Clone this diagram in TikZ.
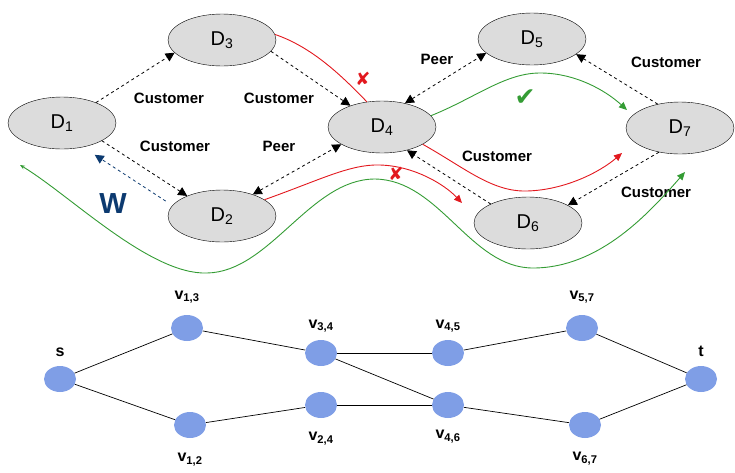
\documentclass[tikz,border=0pt]{standalone}
\usepackage{fontspec}
\setmainfont{Liberation Sans}
\newfontfamily\symfont{DejaVu Sans}
\usetikzlibrary{shapes.geometric,arrows.meta}

\definecolor{domgray}{RGB}{220,220,220}
\definecolor{pathred}{RGB}{226,24,30}
\definecolor{pathgreen}{RGB}{52,156,52}
\definecolor{vblue}{RGB}{127,158,230}
\definecolor{wnavy}{RGB}{12,58,112}

\begin{document}
\begin{tikzpicture}[x=1pt,y=-1pt,
  dom/.style={ellipse,draw,thin,fill=domgray,minimum width=108pt,minimum
    height=52pt,inner sep=0pt,font=\fontsize{20}{22}\selectfont},
  rel/.style={font=\fontsize{15}{17}\selectfont\bfseries},
  arj/.style={line width=0.8pt,dashed,-{Triangle[length=9pt,width=9pt]}},
  arjj/.style={line width=0.8pt,dashed,{Triangle[length=9pt,width=9pt]}-{Triangle[length=9pt,width=9pt]}},
  bad/.style={pathred,line width=0.9pt},
  good/.style={pathgreen,line width=0.9pt},
  tip/.style={-{Triangle[length=8pt,width=7pt]}},
  vtx/.style={ellipse,fill=vblue,minimum width=32pt,minimum height=26pt,inner sep=0pt},
  lab/.style={font=\fontsize{16}{18}\selectfont\bfseries,inner sep=0pt}]
  \useasboundingbox (0,0) rectangle (735,472);

  % domains
  \node(D1)[dom] at (62,123) {D\textsubscript{1}};
  \node(D3)[dom] at (222,40) {D\textsubscript{3}};
  \node(D2)[dom] at (222,216) {D\textsubscript{2}};
  \node(D4)[dom] at (382,127) {D\textsubscript{4}};
  \node(D5)[dom] at (532,39) {D\textsubscript{5}};
  \node(D7)[dom] at (680,128) {D\textsubscript{7}};
  \node(D6)[dom] at (528,223) {D\textsubscript{6}};

  % relations
  \draw[arj] (D1.31) -- (D3.195);
  \draw[arj] (D3.347) -- (D4.146);
  \draw[arj] (D1.336) -- (D2.150);
  \draw[arjj] (D2.35) -- (D4.203);
  \draw[arjj] (D4.46) -- (D5.197);
  \draw[arj] (D7.133) -- (D5.341);
  \draw[arj] (D6.153) -- (D4.317);
  \draw[arj] (D7.229) -- (D6.24);
  \draw[arj,wnavy,shorten <=8pt,shorten >=14pt] (D2.168) -- (D1.311);

  \node(c13)[rel] at (169,98) {Customer};
  \node(c34)[rel] at (279,98) {Customer};
  \node(c12)[rel] at (175,146) {Customer};
  \node(p24)[rel] at (279,146) {Peer};
  \node(p45)[rel] at (437,59) {Peer};
  \node(c57)[rel] at (666,62) {Customer};
  \node(c47)[rel] at (497,156) {Customer};
  \node(c76)[rel] at (656,192) {Customer};
  \node(w)[text=wnavy,font=\fontsize{29}{30}\selectfont\bfseries] at (113,204) {W};

  % routes
  \draw[bad] (D3.6) .. controls (312,47) and (342,76) .. (D4.121);
  \coordinate (r2) at (462,203);
  \draw[bad,tip] (D2.21) .. controls (320,180) and (350,164) .. (380,165)
    .. controls (415,166) and (445,185) .. (r2);
  \coordinate (r3) at (622,153);
  \draw[bad,tip] (D4.337) .. controls (465,168) and (492,192) .. (527,191)
    .. controls (565,190) and (600,172) .. (r3);
  \node(x1)[text=pathred,font=\symfont\fontsize{18}{18}\selectfont] at (363,79) {✘};
  \node(x2)[text=pathred,font=\symfont\fontsize{18}{18}\selectfont] at (396,174) {✘};

  \coordinate (g1) at (627,110);
  \draw[good,tip] (D4.13) .. controls (475,98) and (505,73) .. (540,73)
    .. controls (575,73) and (605,90) .. (g1);
  \coordinate (g2s) at (20,165);
  \coordinate (g2) at (685,172);
  \draw[good,{Stealth[length=5pt,width=4pt]}-{Triangle[length=8pt,width=7pt]}] (g2s)
    .. controls (70,195) and (150,275) .. (207,273)
    .. controls (270,272) and (310,179) .. (375,179)
    .. controls (440,180) and (470,268) .. (533,268)
    .. controls (600,268) and (650,212) .. (g2);
  \node(ok)[text=pathgreen,font=\symfont\fontsize{25}{25}\selectfont] at (525,98) {✔};

  % graph
  \node(s)[vtx,label={[lab,label distance=9pt]above:s}] at (60,379) {};
  \node(v13)[vtx,label={[lab,label distance=11pt]above:v\textsubscript{1,3}}] at (187,328) {};
  \node(v12)[vtx,label={[lab,label distance=15pt]below:v\textsubscript{1,2}}] at (190,425) {};
  \node(v34)[vtx,label={[lab,label distance=7pt]above:v\textsubscript{3,4}}] at (321,353) {};
  \node(v24)[vtx,label={[lab,label distance=14pt]below:v\textsubscript{2,4}}] at (321,405) {};
  \node(v45)[vtx,label={[lab,label distance=7pt]above:v\textsubscript{4,5}}] at (448,353) {};
  \node(v46)[vtx,label={[lab,label distance=12pt]below:v\textsubscript{4,6}}] at (448,405) {};
  \node(v57)[vtx,label={[lab,label distance=11pt]above:v\textsubscript{5,7}}] at (582,328) {};
  \node(v67)[vtx,label={[lab,label distance=14pt]below:v\textsubscript{6,7}}] at (585,425) {};
  \node(t)[vtx,label={[lab,label distance=9pt]above:t}] at (701,379) {};

  \foreach \a/\b in {s/v13,s/v12,v13/v34,v12/v24,v34/v45,v34/v46,v24/v46,v45/v57,v46/v67,v57/t,v67/t}
    \draw[line width=0.7pt] (\a) -- (\b);
\end{tikzpicture}
\end{document}
